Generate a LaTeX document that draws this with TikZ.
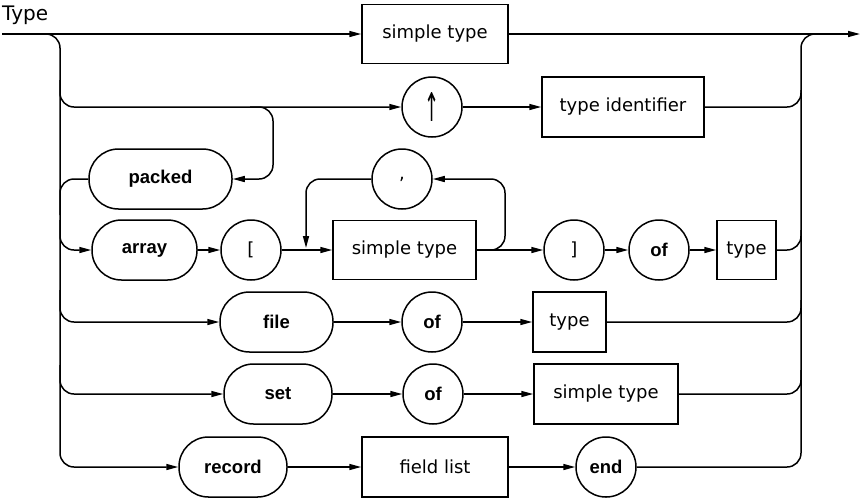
\documentclass[tikz,border=0pt]{standalone}
\usepackage{graphicx}
\usepackage{fontspec}
\setmainfont{DejaVu Sans}
\newfontfamily\kwfont{Liberation Sans}
\usetikzlibrary{arrows.meta}
\tikzset{
  line/.style={line width=1.5pt},
  conn/.style={line width=1.5pt, -{Triangle[length=12pt,width=6pt]}},
  rc/.style={rounded corners=14pt},
  ntbox/.style={draw, line width=1.5pt, rectangle, minimum height=59pt, inner sep=0pt, font=\fontsize{18}{20}\selectfont},
  kwpill/.style={draw, line width=1.5pt, rectangle, rounded corners=29.5pt, minimum height=60pt, inner sep=0pt, font=\kwfont\bfseries\fontsize{18.5}{20}\selectfont},
  kwcirc/.style={draw, line width=1.5pt, circle, minimum size=60pt, inner sep=0pt, font=\kwfont\bfseries\fontsize{18.5}{20}\selectfont},
  symcirc/.style={draw, line width=1.5pt, circle, minimum size=60pt, inner sep=0pt, font=\fontsize{18}{20}\selectfont},
}
\begin{document}
\begin{tikzpicture}[x=1pt,y=-1pt]
\useasboundingbox (0,0) rectangle (861,499);
\node[anchor=base west, font=\fontsize{20}{20}\selectfont, inner sep=0pt] (title) at (2,20) {Type};
\coordinate (in) at (2,34);
\coordinate (out) at (860,34);
% nodes
\node[ntbox, minimum width=146pt] (st1) at (435,34) {simple type};
\node[symcirc] (up) at (432,107) {\scalebox{1}[2.2]{↑}};
\node[ntbox, minimum width=162pt, minimum height=60pt] (tid) at (623,107) {type identifier};
\node[kwpill, minimum width=143pt] (packed) at (160.5,179) {packed};
\node[symcirc] (comma) at (402,179) {,};
\node[kwpill, minimum width=105pt] (array) at (144.5,250) {array};
\node[symcirc] (lb) at (251,250) {[};
\node[ntbox, minimum width=143pt] (st2) at (404.5,250) {simple type};
\node[symcirc] (rb) at (574,250) {]};
\node[kwcirc] (of1) at (659,250) {of};
\node[ntbox, minimum width=59pt] (ty1) at (746.5,250) {type};
\node[kwpill, minimum width=113pt] (file) at (276.5,322) {file};
\node[kwcirc] (of2) at (432,322) {of};
\node[ntbox, minimum width=73pt, minimum height=60pt] (ty2) at (569.5,322) {type};
\node[kwpill, minimum width=108pt] (set) at (278,394) {set};
\node[kwcirc] (of3) at (433,394) {of};
\node[ntbox, minimum width=144pt, minimum height=60pt] (st3) at (606,394) {simple type};
\node[kwpill, minimum width=108pt] (record) at (233,467) {record};
\node[ntbox, minimum width=146pt, minimum height=60pt] (fl) at (435,467) {field list};
\node[kwcirc] (end) at (606,467) {end};
% main line
\draw[conn] (in) -- (st1.west);
\draw[conn] (st1.east) -- (out);
% left trunk
\draw[conn,rc] (40,34) -| (60,467) -- (record.west);
\draw[conn,rc] (60,80) |- (up.west);
\draw[line,rc] (packed.west) -| (60,215);
\draw[conn,rc] (60,220) |- (array.west);
\draw[conn,rc] (60,290) |- (file.west);
\draw[conn,rc] (60,365) |- (set.west);
% packed entry
\draw[conn,rc] (250,107) -| (273,179) -- (packed.east);
% row 2
\draw[conn] (up.east) -- (tid.west);
% array row
\draw[conn] (array.east) -- (lb.west);
\draw[conn] (lb.east) -- (st2.west);
\draw[conn,rc] (comma.west) -| (306,248);
\draw[conn,rc] (st2.east) -| (505,179) -- (comma.east);
\draw[conn] (st2.east) -- (rb.west);
\draw[conn] (rb.east) -- (of1.west);
\draw[conn] (of1.east) -- (ty1.west);
% file row
\draw[conn] (file.east) -- (of2.west);
\draw[conn] (of2.east) -- (ty2.west);
% set row
\draw[conn] (set.east) -- (of3.west);
\draw[conn] (of3.east) -- (st3.west);
% record row
\draw[conn] (record.east) -- (fl.west);
\draw[conn] (fl.east) -- (end.west);
% right trunk
\draw[line,rc] (end.east) -| (801,34) -- (820,34);
\draw[line,rc] (tid.east) -| (801,90);
\draw[line,rc] (ty1.east) -| (801,230);
\draw[line,rc] (ty2.east) -| (801,300);
\draw[line,rc] (st3.east) -| (801,370);
\end{tikzpicture}
\end{document}
